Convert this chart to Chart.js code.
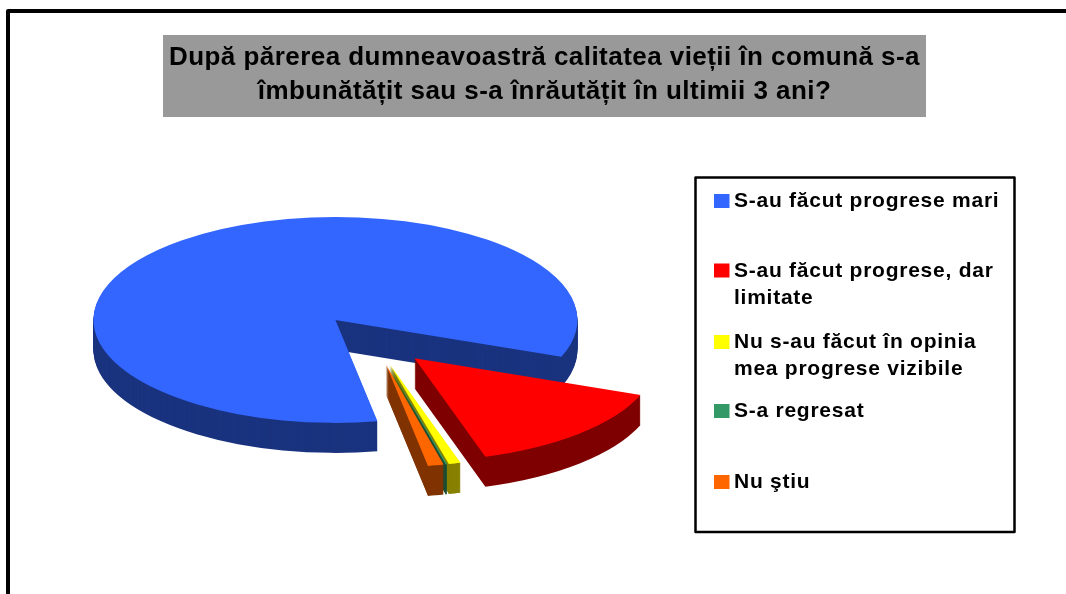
<!DOCTYPE html>
<html lang="ro">
<head>
<meta charset="utf-8">
<style>html,body{margin:0;padding:0;background:#fff}canvas{display:block}</style>
<script src="https://cdn.jsdelivr.net/npm/chart.js@4"></script>
</head>
<body>
<canvas id="c" width="1066" height="594"></canvas>
<script>
const titleLines = ["După părerea dumneavoastră calitatea vieții în comună s-a", "îmbunătățit sau s-a înrăutățit în ultimii 3 ani?"];
const categories = ["S-au făcut progrese mari", "S-au făcut progrese, dar limitate", "Nu s-au făcut în opinia mea progrese vizibile", "S-a regresat", "Nu ştiu"];
const legendLines = [["S-au făcut progrese mari"], ["S-au făcut progrese, dar", "limitate"], ["Nu s-au făcut în opinia", "mea progrese vizibile"], ["S-a regresat"], ["Nu ştiu"]];
const values = [83.6, 14.45, 0.8, 0.1, 1.05];
const topColors = ["#3366FF", "#FF0000", "#FFFF00", "#339966", "#FF6600"];
const wallColors = ["#1A337F", "#7F0000", "#878000", "#1A4D33", "#803300"];

const CX = 373.6, CY = 339.6, SQUASH = 0.4256, DEPTH = 30, EXPLODE = 60, RADIUS = 242;
const FONT = '"Liberation Sans", Arial, sans-serif';

const page = {
  id: 'page',
  beforeDraw(chart) {
    const ctx = chart.ctx;
    ctx.save();
    ctx.fillStyle = '#fff';
    ctx.fillRect(0, 0, 1066, 594);
    ctx.fillStyle = '#999999';
    ctx.fillRect(163, 35, 763, 82);
    ctx.strokeStyle = '#000';
    ctx.lineWidth = 4;
    ctx.lineJoin = 'round';
    ctx.beginPath();
    ctx.moveTo(8, 600);
    ctx.lineTo(8, 11);
    ctx.lineTo(1070, 11);
    ctx.stroke();
    ctx.restore();
    ctx.letterSpacing = '0.45px';
  }
};

const pie3d = {
  id: 'pie3d',
  beforeDatasetDraw(chart, args) {
    const ctx = chart.ctx;
    const arcs = args.meta.data;
    const place = (arc, dy) => {
      const mid = (arc.startAngle + arc.endAngle) / 2;
      ctx.translate(CX, CY + dy);
      ctx.scale(1, SQUASH);
      ctx.translate(Math.cos(mid) * EXPLODE, Math.sin(mid) * EXPLODE);
      ctx.translate(-arc.x, -arc.y);
    };
    arcs.forEach((arc, i) => {
      const keep = arc.options;
      arc.options = {backgroundColor: wallColors[i], borderColor: wallColors[i], borderWidth: 0, offset: 0, spacing: 0, circular: true, borderRadius: 0, borderAlign: 'center', borderJoinStyle: 'round', borderDash: [], borderDashOffset: 0};
      for (let d = DEPTH; d > 0; d--) {
        ctx.save();
        place(arc, d);
        arc.draw(ctx);
        ctx.restore();
      }
      arc.options = keep;
    });
    arcs.forEach(arc => {
      ctx.save();
      place(arc, 0);
      arc.draw(ctx);
      ctx.restore();
    });
    return false;
  }
};

const legendBox = {
  id: 'legendBox',
  afterDraw(chart) {
    const ctx = chart.ctx;
    const swatchTop = [194, 263.5, 335, 404, 475];
    const firstBase = [207, 277, 348, 417, 488];
    ctx.save();
    ctx.strokeStyle = '#000';
    ctx.lineWidth = 2.5;
    ctx.lineJoin = 'round';
    ctx.fillStyle = '#fff';
    ctx.beginPath();
    ctx.rect(695.5, 177.5, 319, 354.5);
    ctx.fill();
    ctx.stroke();
    ctx.font = 'bold 21px ' + FONT;
    ctx.letterSpacing = '0.75px';
    ctx.textBaseline = 'alphabetic';
    ctx.textAlign = 'left';
    legendLines.forEach((lines, i) => {
      ctx.fillStyle = topColors[i];
      ctx.fillRect(714, swatchTop[i], 15.5, 14);
      ctx.fillStyle = '#000';
      lines.forEach((t, j) => ctx.fillText(t, 734, firstBase[i] + j * 26.5));
    });
    ctx.restore();
  }
};

new Chart(document.getElementById('c'), {
  type: 'pie',
  data: {
    labels: categories,
    datasets: [{data: values, backgroundColor: topColors, borderWidth: 0, clip: false}]
  },
  options: {
    responsive: false,
    animation: false,
    devicePixelRatio: 1,
    rotation: 170,
    radius: RADIUS,
    layout: {padding: {left: 23}},
    plugins: {
      legend: {display: false},
      tooltip: {enabled: false},
      title: {
        display: true,
        text: titleLines,
        color: '#000',
        font: {family: FONT, size: 26, weight: 'bold', lineHeight: 1.31},
        padding: {top: 41, bottom: 0}
      }
    }
  },
  plugins: [page, pie3d, legendBox]
});
</script>
</body>
</html>
